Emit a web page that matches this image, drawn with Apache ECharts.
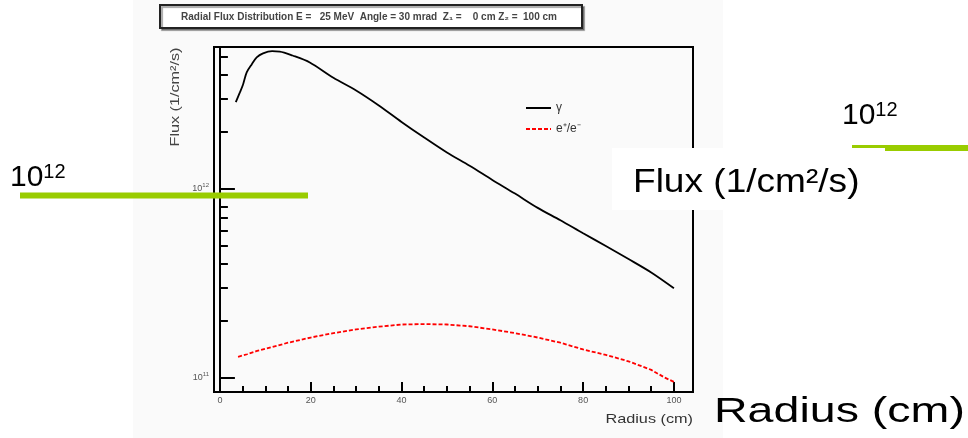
<!DOCTYPE html>
<html><head><meta charset="utf-8">
<script src="https://cdn.jsdelivr.net/npm/echarts@6/dist/echarts.min.js"></script>
<style>html,body{margin:0;padding:0;background:#fff;}#c{width:968px;height:438px;}</style>
</head><body><div id="c"></div>
<script>
// ---- data ----
const gammaRadius = [3.5,4.4,5.1,5.9,7,8.1,9.5,11.5,13.2,16,19.8,25,30,35,40,45,50,55,60,65,70,75,80,85,90,95,100];
const gammaFlux = [2.86e12,3.22e12,3.55e12,4.11e12,4.53e12,4.93e12,5.18e12,5.32e12,5.30e12,5.05e12,4.64e12,3.85e12,3.30e12,2.75e12,2.25e12,1.86e12,1.55e12,1.32e12,1.11e12,9.4e11,7.9e11,6.8e11,5.8e11,4.97e11,4.24e11,3.6e11,2.97e11];
const pairRadius = [4,6,8,10,15,20,25,30,35,40,45,50,55,60,65,70,75,80,85,90,95,98,100];
const pairFlux = [1.29e11,1.33e11,1.38e11,1.42e11,1.53e11,1.63e11,1.72e11,1.80e11,1.86e11,1.91e11,1.92e11,1.91e11,1.87e11,1.80e11,1.72e11,1.63e11,1.53e11,1.41e11,1.32e11,1.22e11,1.10e11,1.0e11,0.95e11];
const xMajorTicks = [0,20,40,60,80,100];
const xMinorTicks = [5,10,15,25,30,35,45,50,55,65,70,75,85,90,95];
const yMajorTicks = [1e11,1e12];
const yMinorTicks = [2e11,3e11,4e11,5e11,6e11,7e11,8e11,9e11,2e12,3e12,4e12,5e12];
const seriesNames = ['γ','e⁺/e⁻'];
const titleText = 'Radial Flux Distribution E =   25 MeV  Angle = 30 mrad  Z₁ =    0 cm Z₂ =  100 cm';

const chart = echarts.init(document.getElementById('c'));
const supFmt = v => { const e = Math.round(Math.log10(v)); return '{b|10}{s|' + e + '}'; };
const axisCommon = {type:'log', min:8.4e10, max:5.6e12, gridIndex:0, splitLine:{show:false}, minorTick:{show:false}};
const bigSup = {b:{font:'30px "Liberation Sans"', fill:'#000'}, s:{font:'20px "Liberation Sans"', fill:'#000', verticalAlign:'top', padding:[0,0,12,0]}};
chart.setOption({
  animation:false,
  backgroundColor:'#ffffff',
  grid:{left:214, top:47, right:275, bottom:46, show:true, borderColor:'#000', borderWidth:2, backgroundColor:'transparent'},
  legend:{orient:'vertical', left:520, top:97, itemWidth:25, itemHeight:10, itemGap:9, data:seriesNames, itemStyle:{opacity:0},
    textStyle:{fontSize:12, color:'#333', fontFamily:'Liberation Sans'}},
  xAxis:[
    {type:'value', min:-1.3, max:104.2, position:'bottom',
      axisLine:{lineStyle:{color:'#000', width:2}},
      axisTick:{inside:true, length:10, customValues:xMajorTicks, lineStyle:{color:'#000', width:2}},
      axisLabel:{customValues:xMajorTicks, fontSize:9, color:'#555', margin:4, fontFamily:'Liberation Sans'},
      splitLine:{show:false}},
    {type:'value', min:-1.3, max:104.2, position:'bottom',
      axisLine:{show:false},
      axisTick:{inside:true, length:6, customValues:xMinorTicks, lineStyle:{color:'#000', width:2}},
      axisLabel:{show:false}, splitLine:{show:false}}
  ],
  yAxis:[
    Object.assign({}, axisCommon, {position:'left',
      axisLine:{show:true, lineStyle:{color:'#000', width:2}},
      axisTick:{show:true, inside:true, length:15, customValues:yMajorTicks, lineStyle:{color:'#000', width:2}},
      axisLabel:{customValues:yMajorTicks, formatter:supFmt, margin:5,
        rich:{b:{fontSize:9, color:'#555', fontFamily:'Liberation Sans'}, s:{fontSize:6, color:'#555', verticalAlign:'top', padding:[0,0,6,0], fontFamily:'Liberation Sans'}}}}),
    Object.assign({}, axisCommon, {position:'left',
      axisLine:{show:false},
      axisTick:{show:true, inside:true, length:8, customValues:yMinorTicks, lineStyle:{color:'#000', width:2}},
      axisLabel:{show:false}})
  ],
  series:[
    {name:seriesNames[0], type:'line', xAxisIndex:0, yAxisIndex:0, symbol:'none', smooth:0.3,
      lineStyle:{color:'#000', width:1.8}, itemStyle:{color:'#000'},
      data:gammaRadius.map((r,i)=>[r,gammaFlux[i]])},
    {name:seriesNames[1], type:'line', xAxisIndex:0, yAxisIndex:0, symbol:'none',
      lineStyle:{color:'#ff0000', width:1.8, type:[4,2]}, itemStyle:{color:'#ff0000'},
      data:pairRadius.map((r,i)=>[r,pairFlux[i]])}
  ],
  graphic:[
    {type:'rect', z:-10, silent:true, shape:{x:133,y:0,width:590,height:438}, style:{fill:'#fafafa'}},
    {type:'rect', z:1, shape:{x:160,y:5,width:422,height:23}, style:{fill:'#fff', stroke:'#222', lineWidth:2, shadowColor:'rgba(0,0,0,0.35)', shadowOffsetX:2, shadowOffsetY:2, shadowBlur:1}},
    {type:'text', z:2, x:369, y:17, style:{text:titleText, align:'center', verticalAlign:'middle', font:'bold 10px "Liberation Sans"', fill:'#444'}},
    {type:'text', z:2, x:176, y:97, rotation:Math.PI/2, scaleX:1.35, style:{text:'Flux (1/cm²/s)', align:'center', verticalAlign:'middle', font:'12px "Liberation Sans"', fill:'#444'}},
    {type:'text', z:2, x:693, y:419, scaleX:1.25, style:{text:'Radius (cm)', align:'right', verticalAlign:'middle', font:'13px "Liberation Sans"', fill:'#333'}},
    // slide overlays
    {type:'line', z:5, shape:{x1:20,y1:195.5,x2:308,y2:195.5}, style:{stroke:'#99cc00', lineWidth:6}},
    {type:'text', z:5, x:10, y:194, style:{text:'{b|10}{s|12}', verticalAlign:'bottom', rich:bigSup}},
    {type:'line', z:5, shape:{x1:852,y1:146.5,x2:885,y2:146.5}, style:{stroke:'#99cc00', lineWidth:3}},
    {type:'line', z:5, shape:{x1:885,y1:148,x2:968,y2:148}, style:{stroke:'#99cc00', lineWidth:6}},
    {type:'text', z:5, x:842, y:132, style:{text:'{b|10}{s|12}', verticalAlign:'bottom', rich:bigSup}},
    {type:'rect', z:4, shape:{x:612,y:148,width:356,height:62}, style:{fill:'#fff'}},
    {type:'text', z:5, x:633, y:200, scaleX:1.09, style:{text:'Flux (1/cm²/s)', verticalAlign:'bottom', font:'34px "Liberation Sans"', fill:'#000'}},
    {type:'text', z:5, x:714, y:430, scaleX:1.33, style:{text:'Radius (cm)', verticalAlign:'bottom', font:'35px "Liberation Sans"', fill:'#000'}}
  ]
});
</script></body></html>
